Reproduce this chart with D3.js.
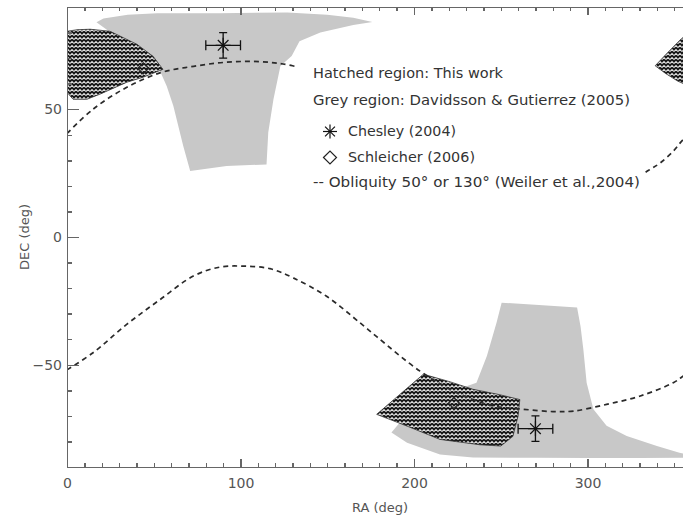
<!DOCTYPE html>
<html>
<head>
  <meta charset="utf-8" />
  <title>Pole solutions</title>
  <script src="https://d3js.org/d3.v7.min.js"></script>
  <style>
    body { margin: 0; background: #fff; }
    .axis path, .axis line { stroke: #666; stroke-width: 1.4; shape-rendering: crispEdges; }
    .axis text { fill: #555; font-family: "DejaVu Sans", sans-serif; font-size: 14px; }
    .legend text { fill: #333; font-family: "DejaVu Sans", sans-serif; font-size: 13.5px; }
    .label { fill: #555; font-family: "DejaVu Sans", sans-serif; font-size: 13px; }
  </style>
</head>
<body>
<div id="chart"></div>
<script>
  // [RA, DEC] in degrees
  var greyNorth = [[17,84],[21,85.5],[35,87],[52,87.6],[88,87.6],[127,87.8],[150,87],[165,85.8],[176,84.1],
    [165,83],[146,80],[134,76.6],[129.5,70.8],[123,66.9],[119,53.9],[116,40.9],[115,28.4],[92,27.8],[71,25.8],
    [67,35.6],[61.3,51.3],[57.5,59],[53.6,65],[45,71.4],[30.5,77.4]];
  var greySouth = [[250.5,-25.7],[272,-26.6],[294,-27.6],[296,-35],[297.6,-43.9],[299.5,-57],[303.4,-67.4],
    [311,-73.9],[322.6,-77.9],[340,-81.8],[353,-84.4],[360,-85.6],[355,-86.4],[330,-86.5],[300,-86.5],
    [270,-86.4],[234,-86.3],[215,-85.1],[196,-80.5],[187,-76.5],[195,-70],[215,-62],[236,-57],[242,-46.6],
    [247.6,-33.5]];
  var hatchNorthWest = [[0,80.5],[5.8,81.1],[13.3,81.3],[24.8,80.5],[40.3,75.4],[49.6,70.7],[55.3,65.6],
    [43.8,62.5],[34.6,60.6],[19,55.9],[11.5,53.9],[3.5,53.9],[0,56.6]];
  var hatchNorthEast = [[360,80.5],[354,77.5],[346,72],[339,67],[345,64],[352,61],[360,58.6]];
  var hatchSouth = [[178.5,-69.4],[205.4,-53.7],[220,-56.5],[234,-59.6],[248,-61.5],[261,-63.6],[260,-70],
    [257,-78],[250,-81.8],[238,-81.3],[215,-79.2],[196,-74]];
  var obliquityNorth = [[0,40.5],[15,50],[34,58.4],[54,64.3],[73,66.8],[92,68.4],[111,68.6],[130,67],
    [160,60],[180,52],[200,41],[225,26],[250,16],[280,12],[310,16],[335,26],[342,29],[349.5,33.6],
    [355,38],[360,40.5]];
  var obliquitySouth = [[0,-52],[15,-45.3],[34.4,-34.2],[53.6,-24.5],[72.8,-15.3],[88,-11.8],[101.6,-11.4],
    [117,-12.4],[130.4,-16],[149.6,-23.2],[168.9,-33.6],[178.5,-39],[203.5,-52.5],[225,-61],[245,-66],
    [263,-67.4],[280,-68.3],[292,-68.1],[311,-65.5],[330,-62.3],[349.5,-57],[355,-54.5],[360,-52]];
  var chesley = [{ra: 90, dec: 75, dra: 10, ddec: 5}, {ra: 270, dec: -75, dra: 10, ddec: 5}];
  var schleicher = [[44, 66], [223, -65]];
  var raMajor = [0, 100, 200, 300];
  var decMajor = [-50, 0, 50];
  var legendLines = ["Hatched region: This work", "Grey region: Davidsson & Gutierrez (2005)",
    "Chesley (2004)", "Schleicher (2006)", "-- Obliquity 50\u00b0 or 130\u00b0 (Weiler et al.,2004)"];

  var W = 683, H = 521;
  var box = {left: 67, top: 7, right: 691.6, bottom: 467};

  var svg = d3.select("#chart").append("svg")
    .attr("width", W).attr("height", H);

  var x = d3.scaleLinear().domain([0, 360]).range([box.left, box.right]);
  var y = d3.scaleLinear().domain([-90, 90]).range([box.bottom, box.top]);

  var defs = svg.append("defs");
  defs.append("clipPath").attr("id", "plot")
    .append("rect").attr("x", box.left).attr("y", box.top)
    .attr("width", box.right - box.left).attr("height", box.bottom - box.top);
  var pat = defs.append("pattern").attr("id", "hatch")
    .attr("patternUnits", "userSpaceOnUse").attr("width", 4).attr("height", 4);
  pat.append("rect").attr("width", 4).attr("height", 4).attr("fill", "#e0e0e0");
  pat.append("path").attr("d", "M0,0.5H4M0,4L4,0M0,0L4,4")
    .attr("stroke", "#1a1a1a").attr("stroke-width", 1.15);

  var plot = svg.append("g").attr("clip-path", "url(#plot)");

  var area = d3.line().x(function (d) { return x(d[0]); }).y(function (d) { return y(d[1]); });
  var smooth = d3.line().curve(d3.curveCatmullRom)
    .x(function (d) { return x(d[0]); }).y(function (d) { return y(d[1]); });

  [greyNorth, greySouth].forEach(function (p) {
    plot.append("path").attr("d", area(p) + "Z").attr("fill", "#c8c8c8");
  });
  [hatchNorthWest, hatchNorthEast, hatchSouth].forEach(function (p) {
    plot.append("path").attr("d", area(p) + "Z")
      .attr("fill", "url(#hatch)").attr("stroke", "#333").attr("stroke-width", 0.8);
  });
  [obliquityNorth, obliquitySouth].forEach(function (p) {
    plot.append("path").attr("d", smooth(p)).attr("fill", "none")
      .attr("stroke", "#2a2a2a").attr("stroke-width", 1.7).attr("stroke-dasharray", "5,4");
  });

  // legend box covers the curve
  var legend = svg.append("g").attr("class", "legend");
  legend.append("rect").attr("x", 295).attr("y", 52).attr("width", 350).attr("height", 161).attr("fill", "#fff");
  var lx = [313, 313, 348, 348, 313], ly = [78, 105, 136, 162, 187], lw = [190, 317, 108, 127, 327];
  legendLines.forEach(function (t, i) {
    legend.append("text").attr("x", lx[i]).attr("y", ly[i])
      .attr("textLength", lw[i]).attr("lengthAdjust", "spacingAndGlyphs").text(t);
  });

  function asterisk(g, cx, cy, r) {
    [0, 45, 90, 135].forEach(function (a) {
      var dx = r * Math.cos(a * Math.PI / 180), dy = r * Math.sin(a * Math.PI / 180);
      g.append("line").attr("x1", cx - dx).attr("y1", cy - dy).attr("x2", cx + dx).attr("y2", cy + dy)
        .attr("stroke", "#111").attr("stroke-width", 1.2);
    });
  }
  function diamond(g, cx, cy, r) {
    g.append("path").attr("d", "M" + (cx - r) + "," + cy + "L" + cx + "," + (cy - r) + "L" + (cx + r) + "," + cy + "L" + cx + "," + (cy + r) + "Z")
      .attr("fill", "none").attr("stroke", "#222").attr("stroke-width", 1.2);
  }

  asterisk(legend, 330, 131.5, 7);
  diamond(legend, 330, 157.5, 6.5);

  var marks = svg.append("g");
  chesley.forEach(function (d) {
    var cx = x(d.ra), cy = y(d.dec);
    var x0 = x(d.ra - d.dra), x1 = x(d.ra + d.dra), y0 = y(d.dec + d.ddec), y1 = y(d.dec - d.ddec);
    var s = "M" + x0 + "," + cy + "H" + x1 + "M" + x0 + "," + (cy - 5) + "V" + (cy + 5) + "M" + x1 + "," + (cy - 5) + "V" + (cy + 5) +
      "M" + cx + "," + y0 + "V" + y1 + "M" + (cx - 4) + "," + y0 + "H" + (cx + 4) + "M" + (cx - 4) + "," + y1 + "H" + (cx + 4);
    marks.append("path").attr("d", s).attr("fill", "none").attr("stroke", "#111").attr("stroke-width", 1.3);
    asterisk(marks, cx, cy, 7.5);
  });
  schleicher.forEach(function (d) { diamond(marks, x(d[0]), y(d[1]), 5.5); });

  // axes, ticks pointing inward
  var raMinor = d3.range(10, 360, 10).filter(function (v) { return v % 100 != 0; });
  var decMinor = d3.range(-80, 90, 10).filter(function (v) { return v % 50 != 0; });

  svg.append("g").attr("class", "axis").attr("transform", "translate(0," + box.bottom + ")")
    .call(d3.axisBottom(x).tickValues(raMajor).tickSize(-8).tickSizeOuter(0).tickPadding(11));
  svg.append("g").attr("class", "axis").attr("transform", "translate(0," + box.bottom + ")")
    .call(d3.axisBottom(x).tickValues(raMinor).tickSize(-4).tickSizeOuter(0).tickFormat(""));
  svg.append("g").attr("class", "axis").attr("transform", "translate(0," + box.top + ")")
    .call(d3.axisTop(x).tickValues(raMajor).tickSize(-8).tickSizeOuter(0).tickFormat(""));
  svg.append("g").attr("class", "axis").attr("transform", "translate(0," + box.top + ")")
    .call(d3.axisTop(x).tickValues(raMinor).tickSize(-4).tickSizeOuter(0).tickFormat(""));
  svg.append("g").attr("class", "axis").attr("transform", "translate(" + box.left + ",0)")
    .call(d3.axisLeft(y).tickValues(decMajor).tickSize(-12).tickSizeOuter(0).tickPadding(5));
  svg.append("g").attr("class", "axis").attr("transform", "translate(" + box.left + ",0)")
    .call(d3.axisLeft(y).tickValues(decMinor).tickSize(-5).tickSizeOuter(0).tickFormat(""));

  svg.append("text").attr("class", "label").attr("x", 380).attr("y", 512)
    .attr("text-anchor", "middle").text("RA (deg)");
  svg.append("text").attr("class", "label").attr("transform", "translate(29,237) rotate(-90)")
    .attr("text-anchor", "middle").text("DEC (deg)");
</script>
</body>
</html>
